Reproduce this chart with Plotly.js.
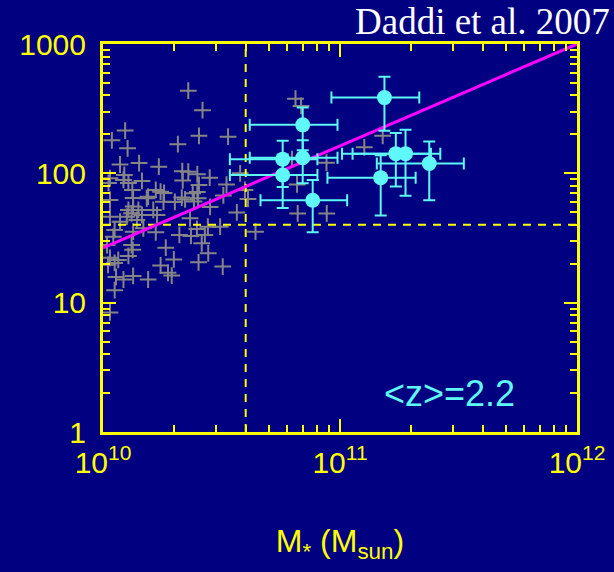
<!DOCTYPE html>
<html><head><meta charset="utf-8">
<script src="https://cdn.plot.ly/plotly-3.0.1.min.js"></script>
<style>html,body{margin:0;padding:0;background:#000080;}#chart{width:614px;height:572px;}</style>
</head><body><div id="chart"></div>
<script>
// Gray crosses: comparison sample (stellar mass in Msun, SFR)
const grayMass = [2.29e10,2.63e10,1.24e10,1.09e10,1.27e10,2.07e10,2.54e10,3.37e10,6.49e10,6.85e10,
  1.18e10,1.42e10,1.72e10,2.16e10,2.29e10,2.50e10,2.82e10,1.23e10,1.22e10,1.28e10,
  1.07e10,1.055e10,1.46e10,2.17e10,3.32e10,3.79e10,3.97e10,2.54e10,2.50e10,1.33e10,
  1.67e10,1.75e10,1.81e10,1.55e10,2.15e10,2.39e10,3.22e10,4.09e10,1.07e10,1.34e10,
  1.53e10,1.80e10,2.01e10,2.22e10,2.42e10,2.83e10,2.52e10,3.67e10,6.63e10,8.79e10,
  8.77e10,12.66e10,15.14e10,6.59e10,1.34e10,1.28e10,1.41e10,1.32e10,1.26e10,1.46e10,
  1.39e10,1.63e10,1.18e10,1.07e10,1.69e10,2.33e10,1.12e10,1.48e10,1.67e10,2.10e10,
  2.35e10,1.105e10,1.34e10,2.49e10,2.69e10,2.77e10,3.12e10,4.40e10,2.61e10,1.32e10,
  1.335e10,1.28e10,1.84e10,1.04e10,1.07e10,1.12e10,1.05e10,1.16e10,1.99e10,2.53e10,
  2.78e10,1.75e10,1.88e10,1.95e10,3.20e10,1.34e10,1.55e10,1.22e10,1.135e10,1.12e10,
  1.07e10,6.27e10];
const graySfr = [436,308,214,180,156,168,195,192,378,332,
  117,120,112.5,104,103,98.4,92.6,97.2,88.9,84.3,
  91.6,84.3,87.4,88.1,81.8,100,74.4,81.4,71.8,74.4,
  74.4,72.2,70.5,66,64.9,70.2,67.5,63.4,62.3,64.5,
  64.2,60.4,60.1,62.8,60.6,55,64.2,49.9,49,49,
  121,159,195,82.1,55.3,52.1,52.1,49.1,46.2,47.7,
  43.6,52.1,42.3,46.2,47.7,44.9,36.5,37.6,35,33.4,
  32.8,32.4,35.4,37.2,33.4,38.7,38.7,35.4,28.8,27.9,
  25.6,23,26.6,27.9,22.2,20.3,19.6,21.4,21.6,20.5,
  24.1,19.4,17,16.2,19,16.1,15.1,15.1,15.8,12.5,
  8.4,129];

// Cyan points with error bars
const sampleMass = [15.4e10,6.96e10,6.96e10,5.73e10,5.73e10,7.67e10,17.2e10,18.9e10,14.85e10,23.8e10];
const sampleSfr  = [385,237,132,128.5,97,62,142,142,92.6,119];
const massErr    = [6.2e10,2.8e10,2.8e10,2.3e10,2.3e10,3.05e10,7.0e10,7.6e10,6.0e10,9.5e10];
const sfrErr     = [172,86,48,50,43,27,63,75,45.5,57];

// Magenta relation
const relationMass = [1e10, 1e12];
const relationSfr  = [26.5, 1000];

// Dashed cuts
const massCut = 4e10;
const sfrCut = 40;
const xRangeVals = [1e10, 1e12];
const yRangeVals = [1, 1000];

const xTickVals = [1e10, 1e11, 1e12];
const xTickText = ['10<sup>10</sup>', '10<sup>11</sup>', '10<sup>12</sup>'];
const xMinorTicks = [2e10,3e10,4e10,5e10,6e10,7e10,8e10,9e10,2e11,3e11,4e11,5e11,6e11,7e11,8e11,9e11];
const yTickVals = [1, 10, 100, 1000];
const yTickText = ['1', '10', '100', '1000'];
const yMinorTicks = [2,3,4,5,6,7,8,9,20,30,40,50,60,70,80,90,200,300,400,500,600,700,800,900];

const yellow = '#ffff00';
const cyan = '#5ff7f7';
const bg = '#000080';

const traces = [
  {x: grayMass, y: graySfr, type: 'scatter', mode: 'markers',
   marker: {symbol: 'cross-thin-open', size: 12, line: {width: 2, color: '#858585'}, color: '#858585'},
   hoverinfo: 'skip'},
  {x: [massCut, massCut], y: yRangeVals, type: 'scatter', mode: 'lines',
   line: {color: yellow, width: 2, dash: '8px,7px'}, hoverinfo: 'skip'},
  {x: xRangeVals, y: [sfrCut, sfrCut], type: 'scatter', mode: 'lines',
   line: {color: yellow, width: 2, dash: '8px,7px'}, hoverinfo: 'skip'},
  {x: relationMass, y: relationSfr, type: 'scatter', mode: 'lines',
   line: {color: '#ff00ff', width: 3}, hoverinfo: 'skip'},
  {x: sampleMass, y: sampleSfr, type: 'scatter', mode: 'markers',
   marker: {size: 15, color: cyan},
   error_x: {type: 'data', array: massErr, color: cyan, thickness: 2, width: 6},
   error_y: {type: 'data', array: sfrErr, color: cyan, thickness: 2, width: 6},
   hoverinfo: 'skip'}
];

const axisCommon = {
  showline: true, linecolor: yellow, linewidth: 3, mirror: 'ticks',
  ticks: 'inside', ticklen: 13, tickwidth: 2, tickcolor: yellow,
  showgrid: false, zeroline: false,
  tickfont: {family: 'Liberation Sans, Arial, sans-serif', size: 30, color: yellow}
};

const layout = {
  width: 614, height: 572,
  paper_bgcolor: bg, plot_bgcolor: bg,
  margin: {l: 103, r: 37, t: 44, b: 140},
  showlegend: false,
  xaxis: Object.assign({}, axisCommon, {
    type: 'log', range: [10, 12], tickmode: 'array', tickvals: xTickVals, ticktext: xTickText,
    ticklabelstandoff: 2,
    minor: {ticks: 'inside', ticklen: 7, tickwidth: 2, tickcolor: yellow, showgrid: false,
            tickmode: 'array', tickvals: xMinorTicks},
    title: {text: 'M<sub>*</sub> (M<sub>sun</sub>)', standoff: 52,
            font: {family: 'Liberation Sans, Arial, sans-serif', size: 32, color: yellow}}
  }),
  yaxis: Object.assign({}, axisCommon, {
    type: 'log', range: [0, 3], tickmode: 'array', tickvals: yTickVals, ticktext: yTickText,
    ticklabelstandoff: 8,
    minor: {ticks: 'inside', ticklen: 7, tickwidth: 2, tickcolor: yellow, showgrid: false,
            tickmode: 'array', tickvals: yMinorTicks}
  }),
  annotations: [
    {text: 'Daddi et al. 2007', xref: 'paper', yref: 'paper', x: 1.074, y: 1.058,
     xanchor: 'right', yanchor: 'middle', showarrow: false,
     font: {family: 'Liberation Serif, Times New Roman, serif', size: 37, color: '#ffffff'}},
    {text: '&lt;z&gt;=2.2', xref: 'paper', yref: 'paper', x: 0.732, y: 0.10,
     xanchor: 'center', yanchor: 'middle', showarrow: false,
     font: {family: 'Liberation Sans, Arial, sans-serif', size: 36, color: cyan}}
  ]
};

Plotly.newPlot('chart', traces, layout, {displayModeBar: false, staticPlot: true});
</script>
</body></html>
